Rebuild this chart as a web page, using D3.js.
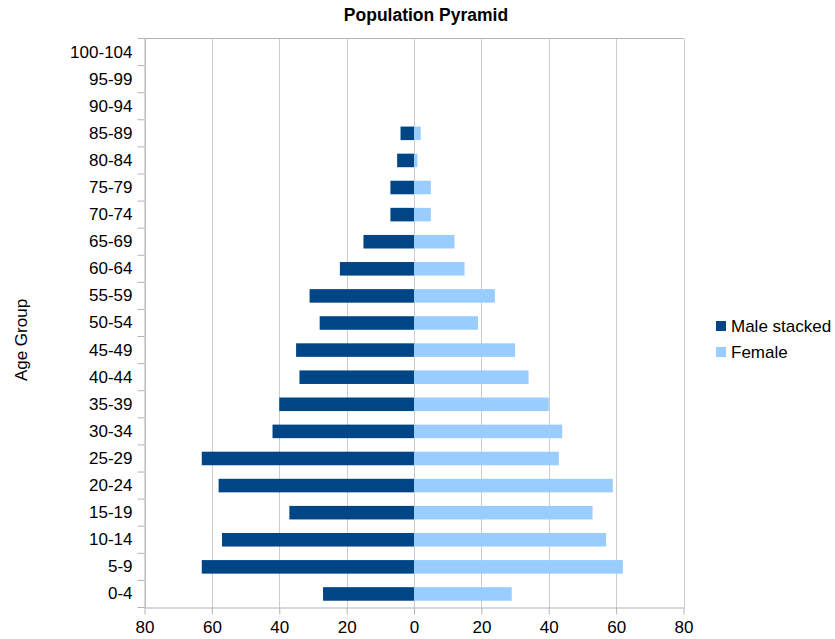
<!DOCTYPE html>
<html>
<head>
<meta charset="utf-8">
<script src="https://cdn.jsdelivr.net/npm/d3@7"></script>
<style>
body{margin:0;background:#fff;}
text{font-family:"Liberation Sans",Arial,sans-serif;}
</style>
</head>
<body>
<div id="chart"></div>
<script>
// age groups, bottom to top
var ages = ["0-4","5-9","10-14","15-19","20-24","25-29","30-34","35-39","40-44","45-49",
  "50-54","55-59","60-64","65-69","70-74","75-79","80-84","85-89","90-94","95-99","100-104"];
var male   = [27,63,57,37,58,63,42,40,34,35,28,31,22,15,7,7,5,4,0,0,0];
var female = [29,62,57,53,59,43,44,40,34,30,19,24,15,12,5,5,1,2,0,0,0];
var xTicks = [-80,-60,-40,-20,0,20,40,60,80];
var seriesNames = ["Male stacked","Female"];
var colors = ["#004586","#99ccff"];

var width = 835, height = 639;
var pLeft = 144.5, pRight = 683.5, pTop = 38.5, pBottom = 607.5;

var svg = d3.select("#chart").append("svg")
  .attr("width", width).attr("height", height);

var x = d3.scaleLinear().domain([-80,80]).range([pLeft,pRight]);
var y = d3.scaleBand().domain(ages.slice().reverse()).range([pTop,pBottom]).paddingInner(0.5).paddingOuter(0.25);

// grid
svg.append("g").selectAll("line").data(xTicks).enter().append("line")
  .attr("x1", d => Math.round(x(d))+0.5).attr("x2", d => Math.round(x(d))+0.5)
  .attr("y1", pTop).attr("y2", pBottom)
  .attr("stroke", "#cccccc");
svg.append("line").attr("x1", pLeft).attr("x2", pRight).attr("y1", pTop).attr("y2", pTop).attr("stroke","#b3b3b3");

var rows = ages.map(function(a,i){ return {age:a, m:male[i], f:female[i]}; });

svg.append("g").selectAll("rect").data(rows).enter().append("rect")
  .attr("x", d => x(-d.m)).attr("width", d => x(0)-x(-d.m))
  .attr("y", d => y(d.age)).attr("height", y.bandwidth())
  .attr("fill", colors[0]);
svg.append("g").selectAll("rect").data(rows).enter().append("rect")
  .attr("x", x(0)).attr("width", d => x(d.f)-x(0))
  .attr("y", d => y(d.age)).attr("height", y.bandwidth())
  .attr("fill", colors[1]);

// axes
var xAxis = svg.append("g").attr("transform","translate(0,"+pBottom+")")
  .call(d3.axisBottom(x).tickValues(xTicks).tickFormat(d => Math.abs(d)).tickSizeInner(7).tickSizeOuter(0));
var yAxis = svg.append("g").attr("transform","translate("+pLeft+",0)")
  .call(d3.axisLeft(y).tickSize(0));
// band boundary ticks
var step = (pBottom-pTop)/ages.length;
yAxis.append("g").selectAll("line").data(d3.range(ages.length+1)).enter().append("line")
  .attr("x1",-7).attr("x2",0)
  .attr("y1", d => pTop+d*step).attr("y2", d => pTop+d*step)
  .attr("stroke","#b3b3b3");
[xAxis,yAxis].forEach(function(g){
  g.select(".domain").attr("stroke","#b3b3b3");
  g.selectAll(".tick line").attr("stroke","#b3b3b3");
  g.selectAll("text").attr("fill","#000").style("font-size","17px").style("font-family","Liberation Sans, Arial, sans-serif");
});
yAxis.selectAll(".tick text").attr("x",-12);
xAxis.selectAll(".tick text").attr("y",13);

// title
svg.append("text").attr("x",426).attr("y",21).attr("text-anchor","middle")
  .style("font-size","17.5px").style("font-weight","bold").text("Population Pyramid");
svg.append("text").attr("transform","translate(27,340) rotate(-90)").attr("text-anchor","middle")
  .style("font-size","17px").text("Age Group");

// legend
var lg = svg.append("g").selectAll("g").data(seriesNames).enter().append("g")
  .attr("transform",(d,i) => "translate(716,"+(321+i*26)+")");
lg.append("rect").attr("width",10).attr("height",10).attr("fill",(d,i)=>colors[i]);
lg.append("text").attr("x",15).attr("y",11).style("font-size","17px").attr("fill","#000").text(d=>d);
</script>
</body>
</html>
